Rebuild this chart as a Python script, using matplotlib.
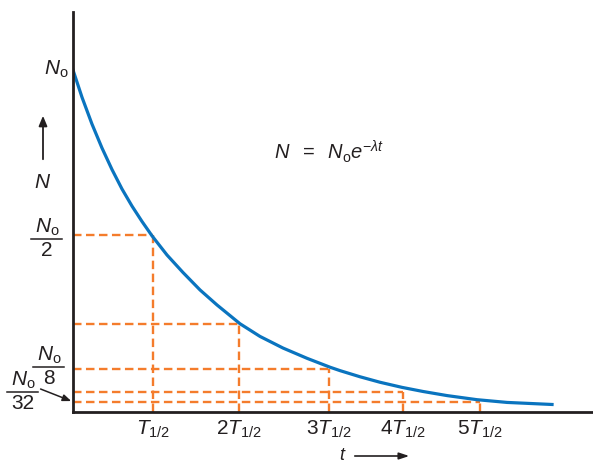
import matplotlib.pyplot as plt

plt.rcParams['font.family'] = ['Liberation Sans', 'DejaVu Sans']
plt.rcParams['mathtext.fontset'] = 'custom'
plt.rcParams['mathtext.rm'] = 'Liberation Sans'
plt.rcParams['mathtext.it'] = 'Liberation Sans:italic'

# curve: t in half-lives, N as fraction of N0
t_curve = [0.0, 0.111, 0.233, 0.356, 0.479, 0.602, 0.725, 0.848, 0.971, 1.155, 1.351,
           1.560, 1.769, 2.052, 2.297, 2.580, 2.875, 3.157, 3.280, 3.526, 3.771, 4.042,
           4.300, 4.595, 4.963, 5.332, 5.885]
n_curve = [1.0, 0.920, 0.842, 0.772, 0.709, 0.652, 0.602, 0.557, 0.515, 0.459, 0.408,
           0.357, 0.313, 0.258, 0.221, 0.187, 0.157, 0.131, 0.121, 0.103, 0.087, 0.072,
           0.060, 0.048, 0.036, 0.028, 0.022]

# half-life marks and the matching levels (N0/2 ... N0/32)
t_marks = [0.983, 2.04, 3.145, 4.054, 5.0]
n_levels = [0.518, 0.257, 0.126, 0.058, 0.029]
x_labels = [r'$T_{1/2}$', r'$2T_{1/2}$', r'$3T_{1/2}$', r'$4T_{1/2}$', r'$5T_{1/2}$']

W, H = 593, 465
blue = '#0a74bf'
orange = '#f47c2c'
ink = '#231f20'
fs = 15

fig = plt.figure(figsize=(W / 100, H / 100), dpi=100)
ax = fig.add_axes([73 / W, (H - 412) / H, (W - 73) / W, 400 / H])
ax.set_xlim(0, 520 / 81.4)
ax.set_ylim(0, 400 / 342)

for s in ['top', 'right']:
    ax.spines[s].set_visible(False)
for s in ['left', 'bottom']:
    ax.spines[s].set_linewidth(2)
    ax.spines[s].set_color(ink)

# dashed guides
for t, lvl in zip(t_marks, n_levels):
    ax.plot([0, t], [lvl, lvl], color=orange, lw=1.7, dashes=(3.6, 1.9), zorder=1)
    ax.plot([t, t], [0, lvl], color=orange, lw=1.7, dashes=(3.6, 1.9), zorder=1)

ax.plot(t_curve, n_curve, color=blue, lw=2.3, zorder=2, solid_joinstyle='round')

ax.set_xticks(t_marks, x_labels)
ax.tick_params(axis='x', length=0, pad=5, labelsize=fs, colors=ink)
ax.set_yticks([])


def px(x, y):
    return x / W, 1 - y / H


def frac(xc, ybar, x0, x1, den):
    fig.text(*px(xc, ybar - 1), r'$N_{\mathrm{o}}$', ha='center', va='bottom', fontsize=fs, color=ink)
    fig.text(*px(xc, ybar + 2), den, ha='center', va='top', fontsize=fs, color=ink)
    fig.add_artist(plt.Line2D([x0 / W, x1 / W], [1 - ybar / H, 1 - ybar / H],
                              color=ink, lw=1.1, transform=fig.transFigure))


# y-side labels
fig.text(*px(69, 69), r'$N_{\mathrm{o}}$', ha='right', va='center', fontsize=fs, color=ink)
ax.annotate('', xy=px(43, 113), xytext=px(43, 162), xycoords='figure fraction',
            textcoords='figure fraction',
            arrowprops=dict(arrowstyle='-|>,head_width=0.25,head_length=0.6', color=ink, lw=1.3))
fig.text(*px(43, 183), r'$N$', ha='center', va='center', fontsize=fs, color=ink)
frac(47, 239, 31, 62, '2')
frac(49, 367, 33, 64, '8')
frac(23, 392, 7, 38, '32')
ax.annotate('', xy=(0.01, n_levels[4]), xytext=px(38, 388), xycoords='data',
            textcoords='figure fraction',
            arrowprops=dict(arrowstyle='-|>,head_width=0.2,head_length=0.5', color=ink, lw=1.1))

# equation
fig.text(*px(274, 152), r'$N\;\ =\;\ N_{\mathrm{o}}e^{-\lambda t}$', ha='left', va='center',
         fontsize=14.5, color=ink)

# t axis label with arrow
fig.text(*px(342, 460), 't', style='italic', ha='center', va='baseline', fontsize=13, color=ink)
ax.annotate('', xy=px(412, 456), xytext=px(352, 456), xycoords='figure fraction',
            textcoords='figure fraction',
            arrowprops=dict(arrowstyle='-|>,head_width=0.2,head_length=0.6', color=ink, lw=1.2))

fig.savefig('out.png', dpi=100)
